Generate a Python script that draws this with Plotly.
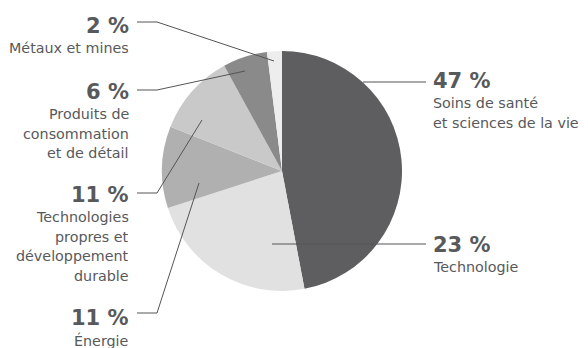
import plotly.graph_objects as go

# Répartition par secteur (en %)
secteurs = [
    "Soins de santé et sciences de la vie",
    "Technologie",
    "Énergie",
    "Technologies propres et développement durable",
    "Produits de consommation et de détail",
    "Métaux et mines",
]
parts = [47, 23, 11, 11, 6, 2]
couleurs = ["#5e5e60", "#e1e1e1", "#b0b0b0", "#c9c9c9", "#8a8a8a", "#ededed"]

# Libellés affichés sous chaque pourcentage
libelles = [
    ["Soins de santé", "et sciences de la vie"],
    ["Technologie"],
    ["Énergie"],
    ["Technologies", "propres et", "développement", "durable"],
    ["Produits de", "consommation", "et de détail"],
    ["Métaux et mines"],
]

W, H = 588, 348
TXT = "#58595b"
FONT = "DejaVu Sans"


def px(x, y):
    return x / W, 1 - y / H


fig = go.Figure()

cx, cy, r = 282, 171, 120
x0, y1 = px(cx - r, cy - r)
x1, y0 = px(cx + r, cy + r)
fig.add_trace(go.Pie(
    labels=secteurs,
    values=parts,
    sort=False,
    direction="clockwise",
    rotation=0,
    marker=dict(colors=couleurs, line=dict(width=0)),
    textinfo="none",
    hoverinfo="label+percent",
    domain=dict(x=[x0, x1], y=[y0, y1]),
    showlegend=False,
))

# Emplacement des étiquettes : (côté, y du chiffre, points du trait de rappel)
placements = [
    ("right", 81, [(363, 82), (426, 82)]),
    ("right", 245, [(272, 244), (426, 244)]),
    ("left", 318, [(137, 313), (157, 313), (199, 183)]),
    ("left", 195, [(137, 193), (157, 193), (202, 120)]),
    ("left", 92, [(137, 90), (157, 90), (245, 71)]),
    ("left", 26, [(137, 22), (157, 22), (274, 61)]),
]

shapes = []
annotations = []
for val, lignes, (cote, yn, pts) in zip(parts, libelles, placements):
    path = ""
    for i, (x, y) in enumerate(pts):
        xp, yp = px(x, y)
        path += ("M" if i == 0 else "L") + f"{xp},{yp} "
    shapes.append(dict(type="path", path=path, xref="paper", yref="paper",
                       line=dict(color="#555555", width=1)))
    if cote == "right":
        xt, anchor = 432, "left"
    else:
        xt, anchor = 130, "right"
    xa, ya = px(xt, yn)
    annotations.append(dict(
        x=xa, y=ya, xref="paper", yref="paper", xanchor=anchor, yanchor="middle",
        text=f"<b>{val} %</b>", showarrow=False, height=20, borderpad=0,
        font=dict(family=FONT, size=21, color=TXT),
    ))
    for k, ligne in enumerate(lignes):
        xa, ya = px(xt, yn + 22 + 19.5 * k)
        annotations.append(dict(
            x=xa, y=ya, xref="paper", yref="paper", xanchor=anchor, yanchor="middle",
            text=ligne, showarrow=False, height=16, borderpad=0,
            font=dict(family=FONT, size=14.3, color=TXT),
        ))

fig.update_layout(
    width=W, height=H,
    margin=dict(l=0, r=0, t=0, b=0),
    paper_bgcolor="white",
    plot_bgcolor="white",
    shapes=shapes,
    annotations=annotations,
)

fig.write_html("out.html")
